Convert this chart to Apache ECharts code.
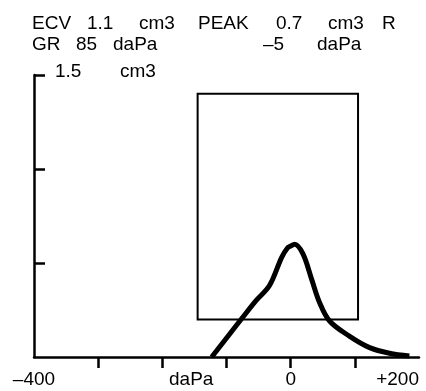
<!DOCTYPE html>
<html>
<head>
<meta charset="utf-8">
<script src="https://cdn.jsdelivr.net/npm/echarts@6/dist/echarts.min.js"></script>
<style>
html,body{margin:0;padding:0;background:#fff;}
#chart{width:426px;height:391px;}
</style>
</head>
<body>
<div id="chart"></div>
<script>
// 曲线数据 (daPa, cm3)
var pressure=[-123,-75,-54,-33,-14,-5,0,6,19,33,45,61,92,123,154,185];
var volume=[0,0.21,0.30,0.38,0.53,0.58,0.59,0.60,0.55,0.41,0.29,0.19,0.11,0.05,0.02,0.005];
// 正常范围框
var boxX=[-145,105];
var boxY=[0.2,1.4];
// 刻度
var xTicks=[-300,-200,-100,0,100];
var xLabelVals=[-400,-155,0,200];
var xLabelText=['\u2013400','daPa','0','+200'];
var yTicks=[0.5,1,1.5];
// 表头
var headRow1=['ECV','1.1','cm3','PEAK','0.7','cm3','R'];
var headRow2=['GR','85','daPa','\u20135','daPa'];

var font='"Liberation Sans", Arial, sans-serif';
var chart=echarts.init(document.getElementById('chart'));

var row1X=[32,87,139,198,276,328,382];
var row2X=[32,76,113,263,317];
var graphic=[];
for(var i=0;i<headRow1.length;i++){
	graphic.push({type:'text',left:row1X[i],top:14,style:{text:headRow1[i],font:'19px '+font,fill:'#000'}});
}
for(var j=0;j<headRow2.length;j++){
	graphic.push({type:'text',left:row2X[j],top:35,style:{text:headRow2[j],font:'19px '+font,fill:'#000'}});
}

var curve=[];
for(var k=0;k<pressure.length;k++){
	curve.push([pressure[k],volume[k]]);
}

var option={
	animation:false,
	backgroundColor:'#fff',
	graphic:graphic,
	grid:{left:34,right:7,top:75,bottom:34},
	xAxis:{
		type:'value',
		min:-400,max:200,
		splitLine:{show:false},
		axisLine:{onZero:false,lineStyle:{color:'#000',width:2.5}},
		axisTick:{show:true,customValues:xTicks,length:11,lineStyle:{color:'#000',width:2.5}},
		axisLabel:{
			customValues:xLabelVals,
			margin:13,
			color:'#000',
			fontFamily:font,
			fontSize:19,
			alignMinLabel:'center',
			alignMaxLabel:'right',
			formatter:function(v){
				var idx=xLabelVals.indexOf(v);
				return idx>=0?xLabelText[idx]:'';
			}
		}
	},
	yAxis:{
		type:'value',
		min:0,max:1.5,
		splitLine:{show:false},
		axisLine:{onZero:false,lineStyle:{color:'#000',width:2.5}},
		axisTick:{show:true,inside:true,customValues:yTicks,length:11,lineStyle:{color:'#000',width:2.5}},
		axisLabel:{
			customValues:[1.5],
			inside:true,
			margin:21,
			color:'#000',
			fontFamily:font,
			fontSize:19,
			verticalAlign:'middle',
			padding:[0,0,6,0],
			formatter:function(v){
				return '{a|1.5}{b|cm3}';
			},
			rich:{
				a:{width:65,fontSize:19,fontFamily:font,color:'#000'},
				b:{fontSize:19,fontFamily:font,color:'#000'}
			}
		}
	},
	series:[
		{
			type:'line',
			data:curve,
			smooth:0.35,
			symbol:'none',
			lineStyle:{color:'#000',width:5},
			markArea:{
				silent:true,
				itemStyle:{color:'rgba(0,0,0,0)',borderColor:'#000',borderWidth:2},
				data:[[{xAxis:boxX[0],yAxis:boxY[0]},{xAxis:boxX[1],yAxis:boxY[1]}]]
			},
			z:3
		}
	]
};
chart.setOption(option);
</script>
</body>
</html>
